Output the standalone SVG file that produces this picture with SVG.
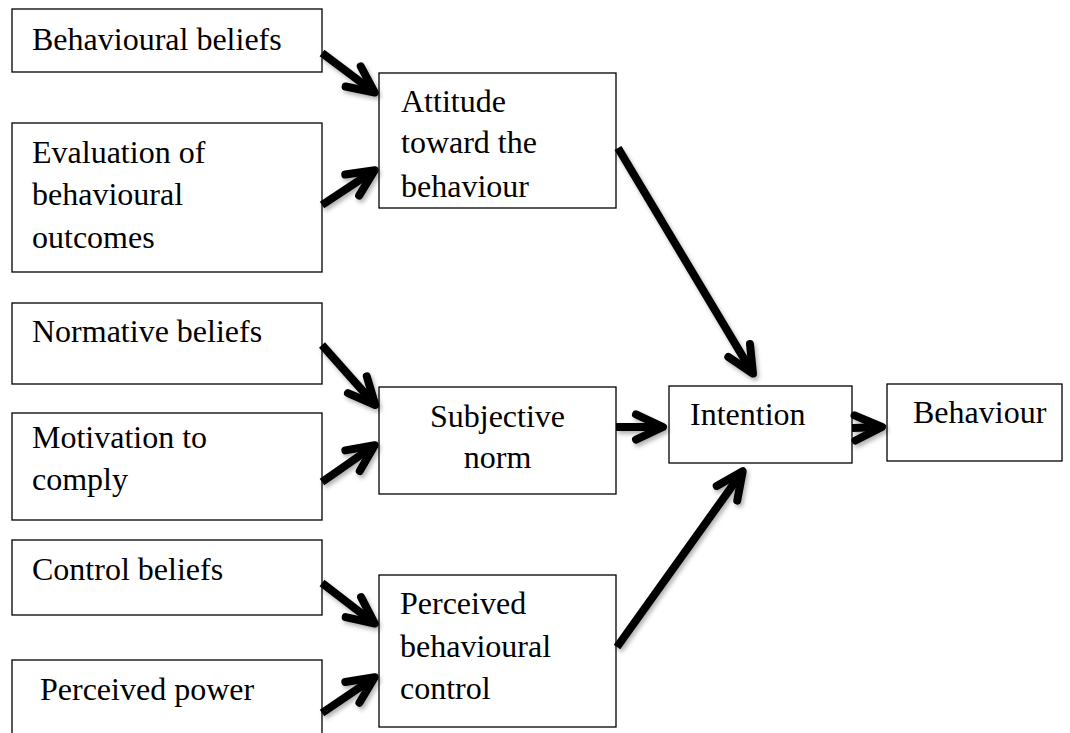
<svg xmlns="http://www.w3.org/2000/svg" width="1070" height="733" viewBox="0 0 1070 733">
<style>
.box{fill:#fff;stroke:#000;stroke-width:1.3}
.t{font-family:"Liberation Serif","Times New Roman",serif;font-size:32px;fill:#000}
.c{text-anchor:middle}
.conn{fill:none;stroke:#000;stroke-width:8;stroke-linecap:butt}
</style>
<defs>
<marker id="ah" markerUnits="userSpaceOnUse" markerWidth="44" markerHeight="44" viewBox="-36 -22 44 44" refX="0" refY="0" orient="auto">
<path d="M-27,-12.6 L0,0 L-27,12.6" fill="none" stroke="#000" stroke-width="8" stroke-linecap="round" stroke-linejoin="round"/>
</marker>
<filter id="sh" x="-20%" y="-20%" width="140%" height="140%">
<feDropShadow dx="2" dy="3" stdDeviation="2" flood-color="#000" flood-opacity="0.3"/>
</filter>
</defs>
<rect width="1070" height="733" fill="#fff"/>
<g id="n-behavioural-beliefs"><rect class="box" x="12" y="9" width="310" height="63"/><text class="t" x="32" y="50">Behavioural beliefs</text></g>
<g id="n-evaluation"><rect class="box" x="12" y="123" width="310" height="149"/><text class="t" x="32" y="163">Evaluation of</text><text class="t" x="32" y="205">behavioural</text><text class="t" x="32" y="248">outcomes</text></g>
<g id="n-attitude"><rect class="box" x="379" y="73" width="237" height="135"/><text class="t" x="401" y="112">Attitude</text><text class="t" x="401" y="153">toward the</text><text class="t" x="401" y="197">behaviour</text></g>
<g id="n-normative"><rect class="box" x="12" y="303" width="310" height="81"/><text class="t" x="32" y="342">Normative beliefs</text></g>
<g id="n-motivation"><rect class="box" x="12" y="413" width="310" height="107"/><text class="t" x="32" y="448">Motivation to</text><text class="t" x="32" y="490">comply</text></g>
<g id="n-subjective"><rect class="box" x="379" y="387" width="237" height="107"/><text class="t c" x="497.5" y="427">Subjective</text><text class="t c" x="497.5" y="468">norm</text></g>
<g id="n-intention"><rect class="box" x="669" y="386" width="183" height="77"/><text class="t" x="690" y="425">Intention</text></g>
<g id="n-behaviour"><rect class="box" x="887" y="384" width="175" height="77"/><text class="t" x="913" y="423">Behaviour</text></g>
<g id="n-control"><rect class="box" x="12" y="540" width="310" height="75"/><text class="t" x="32" y="580">Control beliefs</text></g>
<g id="n-power"><rect class="box" x="12" y="660" width="310" height="90"/><text class="t" x="40" y="700">Perceived power</text></g>
<g id="n-pbc"><rect class="box" x="379" y="575" width="237" height="152"/><text class="t" x="400" y="614">Perceived</text><text class="t" x="400" y="657">behavioural</text><text class="t" x="400" y="699">control</text></g>
<g id="connectors" filter="url(#sh)">
<path class="conn" marker-end="url(#ah)" d="M322,53 L374.8,92.6"/>
<path class="conn" marker-end="url(#ah)" d="M322,205 L374.7,170.2"/>
<path class="conn" marker-end="url(#ah)" d="M322,345 L375.3,405"/>
<path class="conn" marker-end="url(#ah)" d="M322,482 L374.7,445.3"/>
<path class="conn" marker-end="url(#ah)" d="M322,583 L374.8,623.6"/>
<path class="conn" marker-end="url(#ah)" d="M322,713 L374.7,677.2"/>
<path class="conn" marker-end="url(#ah)" d="M618,148 L753,373.6"/>
<path class="conn" marker-end="url(#ah)" d="M617,647 L742.7,471.3"/>
<path class="conn" marker-end="url(#ah)" d="M616,427 L663,427"/>
<path class="conn" marker-end="url(#ah)" d="M852,428 L882,427"/>
</g>
</svg>
